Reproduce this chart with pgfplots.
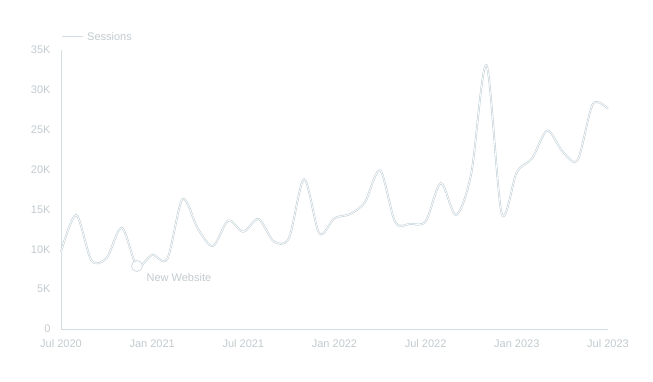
\documentclass[border=0pt]{standalone}
\usepackage{pgfplots}
\pgfplotsset{compat=1.18}
\usepackage{fontspec}
\setmainfont{Liberation Sans}
\definecolor{txt}{HTML}{C2CACE}
\definecolor{axc}{HTML}{D3DCE0}
\definecolor{linec}{HTML}{C3D1D8}
\pgfplotstableread{
m v
0 9700
1 14300
2 8600
3 8900
4 12700
5 7900
6 9300
7 8800
8 16300
9 12600
10 10400
11 13600
12 12200
13 13800
14 11000
15 11400
16 18800
17 12000
18 13900
19 14400
20 15900
21 19900
22 13400
23 13200
24 13500
25 18300
26 14300
27 19500
28 33100
29 14500
30 19700
31 21400
32 24900
33 22300
34 21200
35 28200
36 27600
}\sessions
\pgfplotstableread{
m v
5 7900
}\newsite
\begin{document}
\begin{tikzpicture}[x=1pt,y=1pt]
\useasboundingbox (0,0) rectangle (653,382);
\begin{axis}[
  at={(61pt,53pt)}, anchor=south west,
  scale only axis, width=547pt, height=279pt,
  xmin=0, xmax=36, ymin=0, ymax=35000,
  scaled y ticks=false,
  axis lines*=left,
  axis line style={draw=axc, line width=0.8pt, -},
  xtick={0,6,12,18,24,30,36},
  xticklabels={Jul 2020,Jan 2021,Jul 2021,Jan 2022,Jul 2022,Jan 2023,Jul 2023},
  ytick={0,5000,10000,15000,20000,25000,30000,35000},
  yticklabels={0,5K,10K,15K,20K,25K,30K,35K},
  tick style={draw=none},
  ticklabel style={font=\fontsize{11}{13}\selectfont, text=txt},
  xticklabel style={yshift=-7pt},
  yticklabel style={xshift=-7pt},
  clip=false,
]
\addplot[draw=linec, line width=0.6pt, double=white, double distance=0.7pt, smooth, tension=0.5] table[x=m,y=v]{\sessions};
\addplot[only marks, mark=*, mark size=5.5pt, mark options={draw=axc, fill=white, line width=0.8pt}] table[x=m,y=v]{\newsite};
\node[anchor=west, font=\fontsize{11}{13}\selectfont, text=txt] at (axis cs:5.4,6400) {New Website};
\end{axis}
\draw[axc, line width=0.8pt] (62,346) -- (83,346);
\node[anchor=west, font=\fontsize{11}{13}\selectfont, text=txt, inner sep=0pt] at (87,345.5) {Sessions};
\end{tikzpicture}
\end{document}
